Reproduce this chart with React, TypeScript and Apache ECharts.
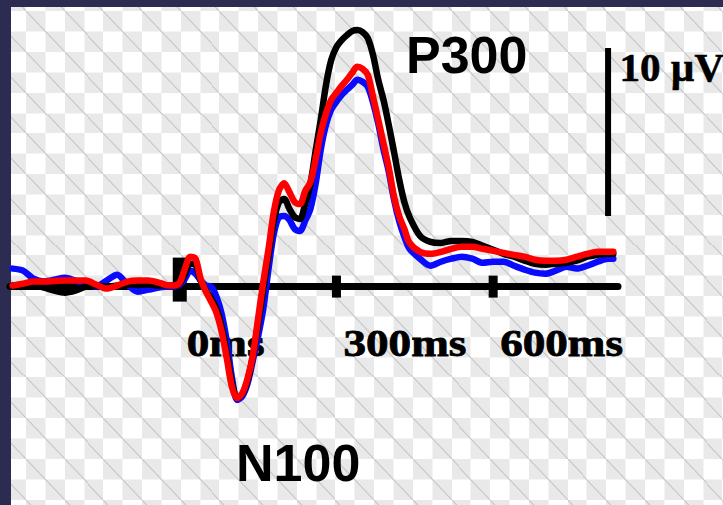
import React, { useEffect, useRef } from "react";
import * as echarts from "echarts";

// Time points (ms) shared by the three waveforms
const times = [
  -320, -300, -280, -260, -240, -220, -200, -180, -160, -140, -120, -100, -80, -60, -40, -20, -10,
  0, 10, 20, 30, 40, 50, 60, 70, 80, 90,
  100, 110, 120, 130, 140, 150, 160, 170, 180, 190,
  200, 210, 220, 230, 240, 250, 260, 270, 280, 290,
  300, 310, 320, 330, 340, 350, 360, 370, 380, 390,
  400, 410, 420, 430, 440,
  460, 480, 500, 520, 540, 560, 580, 600, 620, 640,
  660, 680, 700, 720, 740, 760, 780, 800, 820, 830,
];

// Amplitudes (µV)
const blackWave = [
  0.06, 0.06, 0.06, -0.06, -0.24, -0.36, -0.24, 0.0, 0.06, 0.0, 0.06, 0.12, 0.12, 0.12, 0.06, 0.06, 0.06,
  0.18, 0.77, 1.36, 1.3, 0.36, -0.24, -0.71, -1.3, -2.37, -3.96,
  -5.74, -6.63, -6.39, -5.56, -4.14, -2.19, -0.12, 1.89, 3.91, 5.03,
  5.21, 4.62, 4.14, 4.02, 4.91, 6.09, 8.05, 9.94, 12.01, 13.49,
  14.26, 14.67, 14.97, 15.21, 15.27, 15.15, 14.79, 13.79, 12.31, 11.12,
  9.64, 8.05, 6.39, 5.03, 4.14,
  3.02, 2.66, 2.6, 2.72, 2.72, 2.66, 2.43, 2.19, 1.95, 1.78,
  1.54, 1.36, 1.3, 1.36, 1.42, 1.54, 1.78, 1.89, 1.95, 1.95,
];

const blueWave = [
  1.07, 0.95, 0.47, 0.3, 0.41, 0.53, 0.36, 0.18, 0.0, 0.36, 0.71, 0.12, -0.3, -0.18, -0.06, 0.0, 0.0,
  0.12, 0.47, 0.95, 0.77, 0.36, 0.06, 0.0, -0.59, -1.6, -3.25,
  -5.44, -6.75, -6.51, -5.74, -4.38, -2.96, -1.3, 1.07, 3.14, 4.14,
  4.2, 3.96, 3.43, 3.31, 3.91, 4.62, 6.09, 8.17, 9.64, 10.53,
  11.01, 11.42, 11.72, 12.01, 12.31, 12.19, 11.89, 10.95, 9.7, 8.17,
  6.86, 5.21, 3.91, 2.96, 2.25,
  1.66, 1.24, 1.48, 1.66, 1.78, 1.66, 1.42, 1.48, 1.48, 1.24,
  1.01, 0.83, 0.77, 0.95, 1.18, 1.07, 1.24, 1.48, 1.66, 1.66,
];

const redWave = [
  0.06, 0.18, 0.3, 0.3, 0.33, 0.36, 0.36, 0.36, 0.12, -0.12, 0.06, 0.3, 0.36, 0.36, 0.24, 0.06, 0.06,
  0.24, 1.07, 1.78, 1.66, 0.47, -0.3, -0.89, -1.54, -2.66, -4.26,
  -5.98, -6.63, -6.33, -5.44, -4.08, -1.89, 0.3, 2.25, 4.44, 5.74,
  6.15, 5.62, 5.03, 4.91, 5.68, 6.21, 7.57, 9.17, 10.3, 11.12,
  11.54, 11.95, 12.31, 12.72, 13.08, 12.96, 12.6, 11.3, 9.94, 8.52,
  7.1, 5.38, 4.2, 3.43, 2.6,
  2.07, 1.95, 2.07, 2.25, 2.37, 2.37, 2.25, 2.13, 2.01, 1.89,
  1.78, 1.6, 1.54, 1.54, 1.6, 1.78, 1.95, 2.07, 2.07, 2.07,
];

const tickTimes = [0, 300, 600];
const tickLabels = ["0ms", "300ms", "600ms"];
const scaleBarTime = 820;
const scaleBarRange = [4.2, 14.2];
const scaleBarLabel = "10 µV";
const peakLabels = ["P300", "N100"];

const tileSvg =
  "<svg xmlns='http://www.w3.org/2000/svg' width='38.7' height='40.7' viewBox='0 0 38.7 40.7'>" +
  "<rect width='38.7' height='40.7' fill='#ffffff'/>" +
  "<rect width='19.35' height='20.35' fill='#e9e9e9'/>" +
  "<rect x='19.35' y='20.35' width='19.35' height='20.35' fill='#e9e9e9'/>" +
  "<line x1='0' y1='0' x2='38.7' y2='40.7' stroke='#c4c4c4' stroke-width='1'/>" +
  "</svg>";
const tileUrl = `url("data:image/svg+xml;charset=utf-8,${encodeURIComponent(tileSvg)}")`;

export default function App() {
  const ref = useRef<HTMLDivElement>(null);

  useEffect(() => {
    const chart = echarts.init(ref.current!, null, { renderer: "svg" });
    const wave = (vals: number[]) => times.map((t, i) => [t, vals[i]]);
    const lineBase = {
      type: "line",
      symbol: "none",
      smooth: 0.3,
      silent: true,
      z: 3,
      emphasis: { disabled: true },
    };
    const lw = 6.5;
    chart.setOption({
      animation: false,
      backgroundColor: "transparent",
      grid: { left: 10, top: 1, width: 608, height: 507, containLabel: false },
      xAxis: {
        type: "value",
        min: -325,
        max: 839,
        axisLine: { show: true, onZero: true, lineStyle: { color: "#000", width: 7 } },
        axisTick: { show: false },
        axisLabel: { show: false },
        splitLine: { show: false },
      },
      yAxis: {
        type: "value",
        min: -13,
        max: 17,
        show: false,
        splitLine: { show: false },
      },
      graphic: [
        {
          type: "text",
          x: 406,
          y: 55,
          silent: true,
          style: {
            text: peakLabels[0],
            fontFamily: "Liberation Sans",
            fontWeight: "bold",
            fontSize: 52,
            fill: "#000",
            align: "left",
            verticalAlign: "middle",
          },
        },
        {
          type: "text",
          x: 236,
          y: 463,
          silent: true,
          style: {
            text: peakLabels[1],
            fontFamily: "Liberation Sans",
            fontWeight: "bold",
            fontSize: 52,
            fill: "#000",
            align: "left",
            verticalAlign: "middle",
          },
        },
      ],
      series: [
        {
          type: "custom",
          name: "ticks",
          z: 1,
          silent: true,
          clip: false,
          data: tickTimes.map((t) => [t, 0]),
          renderItem: (params: any, api: any) => {
            const i = params.dataIndex;
            const p = api.coord([api.value(0), api.value(1)]);
            const major = i === 0;
            const w = major ? 14 : 9;
            const h = major ? 44 : 22;
            const cy = major ? p[1] - 7 : p[1];
            return {
              type: "group",
              children: [
                {
                  type: "rect",
                  shape: { x: p[0] - w / 2, y: cy - h / 2, width: w, height: h },
                  style: { fill: "#000" },
                },
                {
                  type: "text",
                  x: p[0] + 7,
                  y: p[1] + 57,
                  scaleX: 1.22,
                  style: {
                    text: tickLabels[i],
                    fill: "#000",
                    stroke: "#000",
                    lineWidth: 0.8,
                    fontFamily: "Liberation Serif",
                    fontWeight: "bold",
                    fontSize: 37,
                    align: "left",
                    verticalAlign: "middle",
                  },
                },
              ],
            };
          },
        },
        { ...lineBase, name: "blue", data: wave(blueWave), lineStyle: { color: "#0a0aff", width: lw, cap: "round", join: "round" } },
        { ...lineBase, name: "black", data: wave(blackWave), lineStyle: { color: "#000000", width: lw, cap: "round", join: "round" } },
        { ...lineBase, name: "red", data: wave(redWave), lineStyle: { color: "#ff0000", width: lw, cap: "round", join: "round" } },
        {
          type: "line",
          name: "scale",
          symbol: "none",
          silent: true,
          z: 3,
          data: scaleBarRange.map((v) => [scaleBarTime, v]),
          lineStyle: { color: "#000", width: 6 },
        },
        {
          type: "scatter",
          name: "scaleLabel",
          silent: true,
          z: 3,
          symbolSize: 1,
          itemStyle: { color: "transparent", opacity: 1 },
          data: [[scaleBarTime, scaleBarRange[1]]],
          label: {
            show: true,
            position: "right",
            distance: 11,
            offset: [0, 19],
            formatter: scaleBarLabel,
            color: "#000",
            textBorderWidth: 0.6,
            textBorderColor: "#000",
            fontFamily: "Liberation Serif",
            fontWeight: "bold",
            fontSize: 41,
          },
        },
      ],
    });
    return () => chart.dispose();
  }, []);

  return (
    <div
      style={{
        position: "fixed",
        left: 0,
        top: 0,
        width: 723,
        height: 505,
        background: "#2c2b52",
        overflow: "hidden",
      }}
    >
      <div
        style={{
          position: "absolute",
          left: 11,
          top: 7,
          right: 0,
          bottom: 0,
          backgroundImage: tileUrl,
          backgroundSize: "38.7px 40.7px",
          backgroundPosition: "15px 4.3px",
        }}
      />
      <div ref={ref} style={{ position: "absolute", left: 0, top: 0, width: 723, height: 505 }} />
    </div>
  );
}
